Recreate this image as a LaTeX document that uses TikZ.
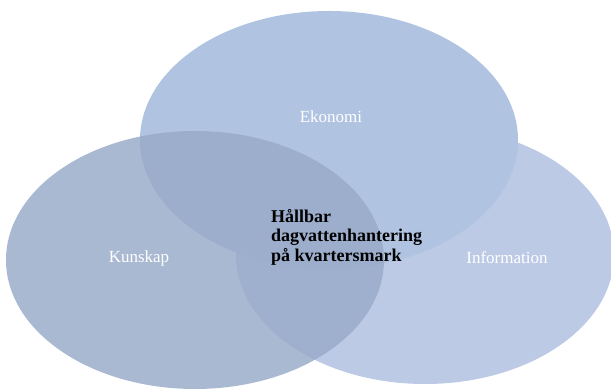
\documentclass[tikz,border=0pt]{standalone}
\usepackage{fontspec}
\setmainfont{Liberation Serif}
\usetikzlibrary{shapes.geometric}

\definecolor{ekoblue}{HTML}{B0C3E1}
\definecolor{kunblue}{HTML}{99ABC9}
\definecolor{infblue}{HTML}{BCCAE6}

\begin{document}
\begin{tikzpicture}[x=1pt,y=1pt,
    blob/.style={ellipse,inner sep=0pt,minimum width=378pt,minimum height=258pt},
    lbl/.style={text=white,font=\fontsize{17}{20}\selectfont,anchor=base,inner sep=0pt}]
    \useasboundingbox (0,0) rectangle (611,390);

    \node[blob,fill=infblue] (inf) at (425,135) {};
    \node[blob,fill=ekoblue] (eko) at (329,250) {};
    \node[blob,fill=kunblue,fill opacity=0.835] (kun) at (195,130) {};

    \node[lbl] (tekonomi) at (331,267) {Ekonomi};
    \node[lbl] (tkunskap) at (139,127) {Kunskap};
    \node[lbl] (tinformation) at (507,126) {Information};

    \node[anchor=north west,inner sep=0pt,align=left,
          font=\fontsize{18}{19.5}\selectfont\bfseries] (mitt) at (271,181)
        {Hållbar\\dagvattenhantering\\på kvartersmark};
\end{tikzpicture}
\end{document}
